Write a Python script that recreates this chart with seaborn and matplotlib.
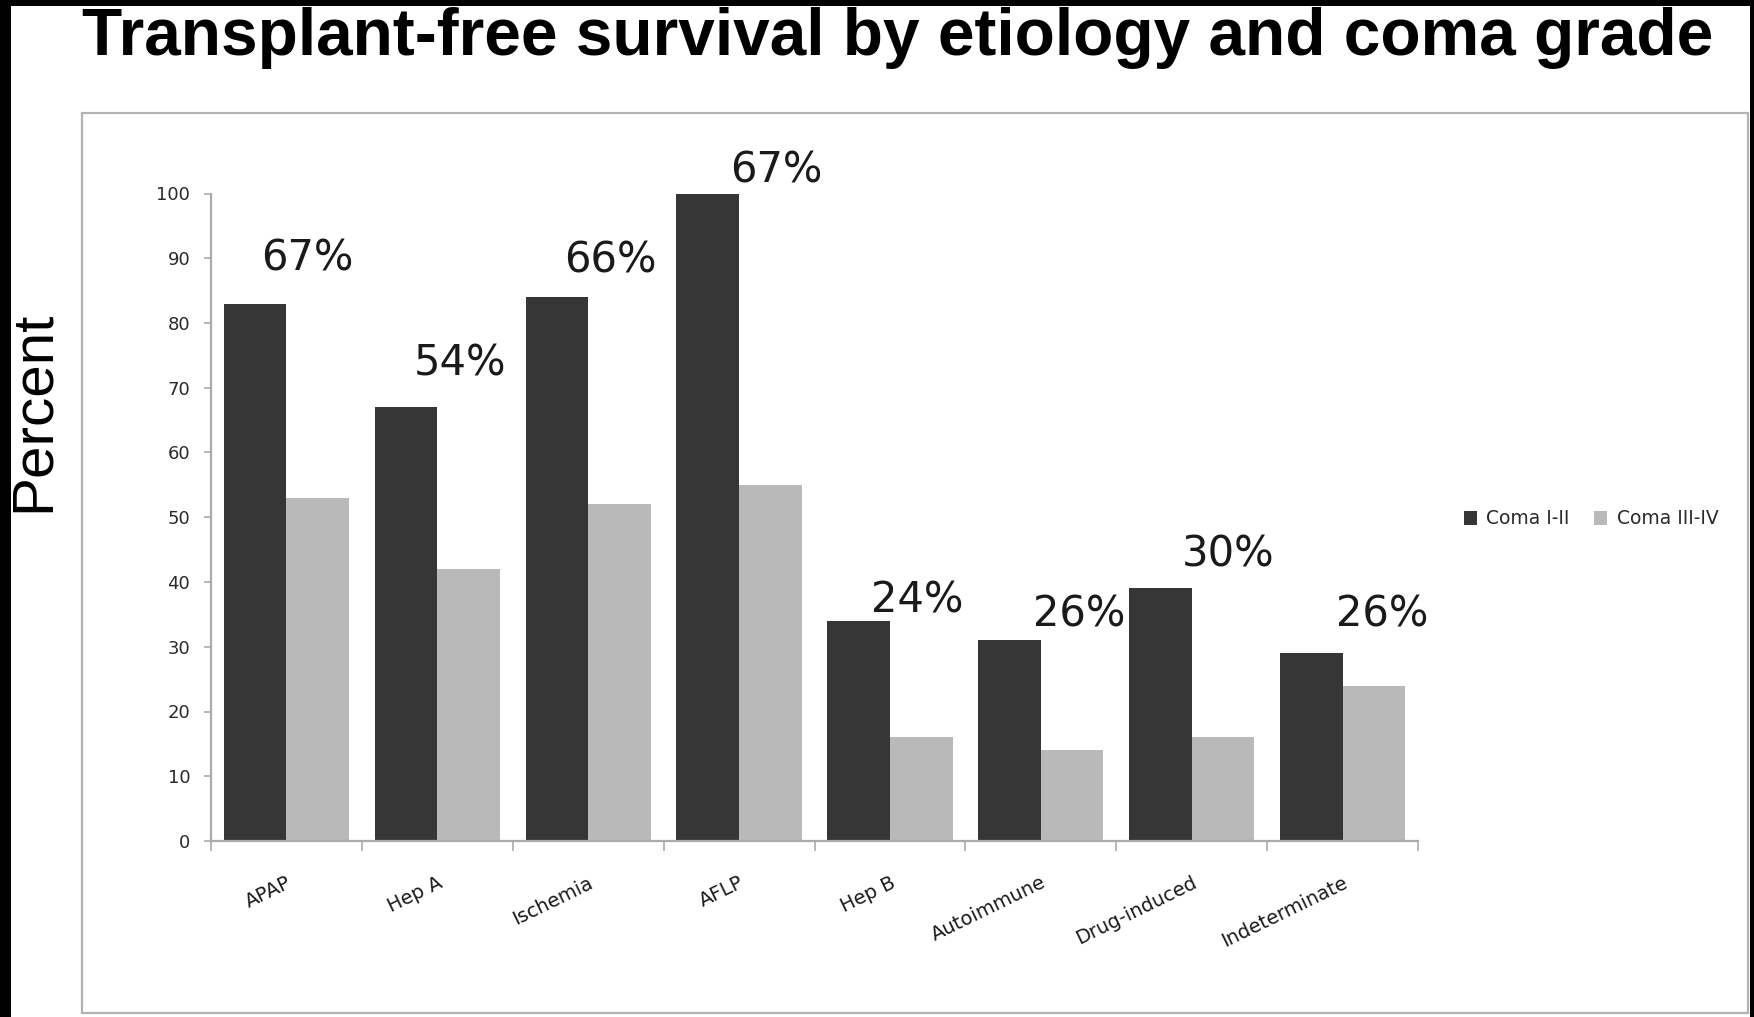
import matplotlib
matplotlib.use("Agg")
import matplotlib.pyplot as plt
from matplotlib.patches import Rectangle, Patch
import seaborn as sns
import pandas as pd

# --- data -------------------------------------------------------------
etiologies = ["APAP", "Hep A", "Ischemia", "AFLP", "Hep B",
              "Autoimmune", "Drug-induced", "Indeterminate"]
coma_low = [83, 67, 84, 100, 34, 31, 39, 29]      # Coma I-II
coma_high = [53, 42, 52, 55, 16, 14, 16, 24]      # Coma III-IV
grades = ["Coma I-II", "Coma III-IV"]
overall_labels = ["67%", "54%", "66%", "67%", "24%", "26%", "30%", "26%"]

# label anchors (category offset, y in data units)
label_dx = [0.14, 0.15, 0.15, 0.25, 0.18, 0.255, 0.24, 0.26]
label_y = [89.9, 73.7, 89.6, 103.5, 37.1, 35.0, 44.2, 35.0]

df = pd.DataFrame({
    "Etiology": etiologies * 2,
    "Percent": coma_low + coma_high,
    "Grade": [grades[0]] * len(etiologies) + [grades[1]] * len(etiologies),
})

palette = {grades[0]: "#363636", grades[1]: "#b9b9b9"}

# --- figure -----------------------------------------------------------
W, H = 1754, 1017
fig = plt.figure(figsize=(W / 100, H / 100), dpi=100)
fig.patch.set_facecolor("white")

def fx(px):
    return px / W

def fy(py):
    return 1 - py / H

# outer frame of the slide
fig.add_artist(Rectangle((fx(82), fy(1013)), fx(1748) - fx(82), fy(113) - fy(1013),
                         transform=fig.transFigure, fill=False,
                         edgecolor="#b3b3b3", lw=1.6))
# black edges
fig.add_artist(Rectangle((0, 0), fx(11), 1, transform=fig.transFigure,
                         color="black", lw=0))
fig.add_artist(Rectangle((0, fy(6)), 1, 1 - fy(6), transform=fig.transFigure,
                         color="black", lw=0))
fig.add_artist(Rectangle((fx(1750), 0), 1 - fx(1750), 1, transform=fig.transFigure,
                         color="black", lw=0))

ax = fig.add_axes([fx(211), fy(841), fx(1418) - fx(211), fy(193.5) - fy(841)])

sns.barplot(data=df, x="Etiology", y="Percent", hue="Grade", order=etiologies,
            hue_order=grades, palette=palette, width=0.83, saturation=1,
            linewidth=0, ax=ax)

ax.set_xlim(-0.5, len(etiologies) - 0.5)
ax.set_ylim(0, 100)
ax.set_xlabel("")
ax.set_ylabel("")
ax.set_facecolor("none")

for side in ("top", "right"):
    ax.spines[side].set_visible(False)
for side in ("left", "bottom"):
    ax.spines[side].set_color("#ababab")
    ax.spines[side].set_linewidth(1.6)

ax.set_yticks(range(0, 101, 10))
ax.tick_params(axis="y", direction="out", length=5, width=1.2, color="#ababab",
               pad=10, labelsize=13, labelcolor="#2a2a2a")

ax.set_xticks(range(len(etiologies)))
ax.set_xticklabels(etiologies, rotation=26, ha="right", va="top",
                   rotation_mode="anchor", fontsize=14, color="#1a1a1a")
ax.tick_params(axis="x", which="major", length=0, pad=23)
ax.set_xticks([i - 0.5 for i in range(len(etiologies) + 1)], minor=True)
ax.tick_params(axis="x", which="minor", direction="out", length=7, width=1.2,
               color="#ababab")

# overall survival labels
for i, (txt, dx, yv) in enumerate(zip(overall_labels, label_dx, label_y)):
    ax.text(i + dx, yv, txt, ha="center", va="center", fontsize=30,
            color="#1a1a1a", family="DejaVu Sans", clip_on=False)

# legend
handles = [Patch(facecolor=palette[g], edgecolor="none") for g in grades]
ax.legend(handles, grades, ncol=2, frameon=False, fontsize=13.5,
          loc="center left", bbox_to_anchor=(fx(1447), fy(519)),
          bbox_transform=fig.transFigure, handlelength=0.7, handleheight=0.7,
          handletextpad=0.5, columnspacing=1.3, labelcolor="#2a2a2a")

# titles
fig.text(fx(898), fy(55), "Transplant-free survival by etiology and coma grade",
         ha="center", va="baseline", fontsize=47.3, fontweight="bold",
         family="Liberation Sans", color="black")
fig.text(fx(34), fy(411), "Percent", rotation=90, ha="center", va="center",
         fontsize=42, family="Liberation Sans", color="black")

fig.savefig("out.png", dpi=100, facecolor="white")
